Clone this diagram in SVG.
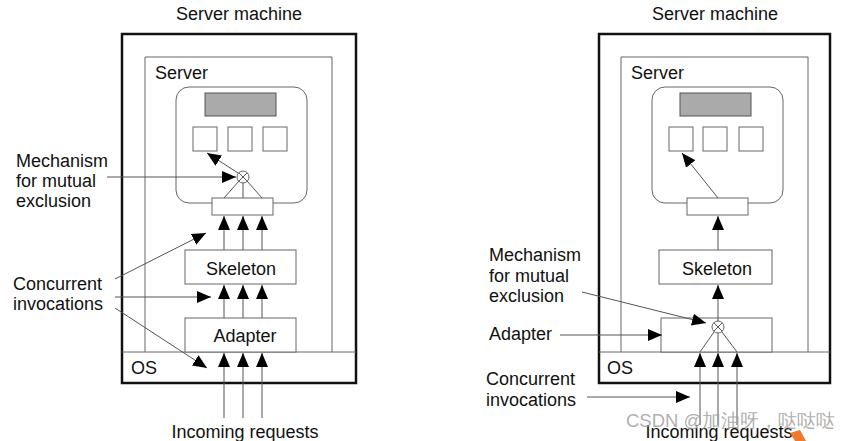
<svg xmlns="http://www.w3.org/2000/svg" width="852" height="441" viewBox="0 0 852 441">
<defs>
<style>
text{font-family:"Liberation Sans",Arial,sans-serif;font-size:18px;fill:#111}
.outer{fill:none;stroke:#111;stroke-width:2.5}
.box{fill:#fff;stroke:#666;stroke-width:1}
.thin{fill:none;stroke:#666;stroke-width:1}
.gray{fill:#aaa;stroke:#555;stroke-width:1}
.c{stroke:#555;stroke-width:1;fill:none}
.a{stroke:#555;stroke-width:1;fill:none;marker-end:url(#ah)}
.mid{text-anchor:middle}
.wm{font-size:18.5px;fill:#9a9a9a;fill-opacity:0.8}
</style>
<marker id="ah" viewBox="0 0 14 12" refX="14" refY="6" markerWidth="14" markerHeight="12" markerUnits="userSpaceOnUse" orient="auto">
<path d="M0,0 L14,6 L0,12 Z" fill="#000"/>
</marker>
</defs>
<rect width="852" height="441" fill="#fff"/>

<!-- LEFT DIAGRAM -->
<g id="left-machine">
<text class="mid" x="239" y="20">Server machine</text>
<rect class="outer" x="122" y="34" width="234" height="349"/>
<line class="thin" x1="122" y1="352" x2="356" y2="352"/>
<text x="131" y="374">OS</text>
</g>
<g id="left-server">
<path class="thin" d="M145,352 V57 H332 V352"/>
<text x="155" y="79">Server</text>
</g>
<g id="left-object">
<rect class="box" x="176" y="87" width="131" height="116" rx="13"/>
<rect class="gray" x="205" y="93" width="71" height="23"/>
<rect class="box" x="193" y="127" width="24" height="24"/>
<rect class="box" x="228" y="127" width="24" height="24"/>
<rect class="box" x="263" y="127" width="24" height="24"/>
</g>
<g id="left-mutex">
<circle class="box" cx="243" cy="177" r="6"/>
<path class="c" d="M238.8,172.8 L247.2,181.2 M247.2,172.8 L238.8,181.2"/>
</g>
<g id="left-interface">
<rect class="box" x="212" y="198" width="61" height="17"/>
</g>
<g id="left-skeleton">
<rect class="box" x="185" y="250" width="111" height="34"/>
<text class="mid" x="241" y="275">Skeleton</text>
</g>
<g id="left-adapter">
<rect class="box" x="185" y="318" width="111" height="34"/>
<text class="mid" x="245" y="342">Adapter</text>
</g>
<g id="left-labels">
<text x="16" y="167">Mechanism</text>
<text x="16" y="187">for mutual</text>
<text x="16" y="207">exclusion</text>
<text x="13" y="290">Concurrent</text>
<text x="13" y="310">invocations</text>
<text class="mid" x="245" y="438">Incoming requests</text>
</g>

<!-- RIGHT DIAGRAM -->
<g id="right-machine">
<text class="mid" x="715" y="20">Server machine</text>
<rect class="outer" x="599" y="34" width="231" height="349"/>
<line class="thin" x1="599" y1="352" x2="830" y2="352"/>
<text x="607" y="374">OS</text>
</g>
<g id="right-server">
<path class="thin" d="M621,352 V57 H808 V352"/>
<text x="631" y="79">Server</text>
</g>
<g id="right-object">
<rect class="box" x="652" y="87" width="131" height="116" rx="13"/>
<rect class="gray" x="680" y="93" width="71" height="23"/>
<rect class="box" x="669" y="127" width="24" height="24"/>
<rect class="box" x="703" y="127" width="24" height="24"/>
<rect class="box" x="739" y="127" width="24" height="24"/>
</g>
<g id="right-interface">
<rect class="box" x="687" y="198" width="61" height="17"/>
</g>
<g id="right-skeleton">
<rect class="box" x="659" y="250" width="113" height="34"/>
<text class="mid" x="717" y="275">Skeleton</text>
</g>
<g id="right-adapter">
<rect class="box" x="661" y="318" width="111" height="34"/>
</g>
<g id="right-mutex">
<circle class="box" cx="718" cy="327" r="6"/>
<path class="c" d="M713.8,322.8 L722.2,331.2 M722.2,322.8 L713.8,331.2"/>
</g>
<g id="right-labels">
<text x="489" y="261">Mechanism</text>
<text x="489" y="282">for mutual</text>
<text x="489" y="302">exclusion</text>
<text x="489" y="340">Adapter</text>
<text x="486" y="385">Concurrent</text>
<text x="486" y="406">invocations</text>
<text class="mid" x="719" y="438">Incoming requests</text>
</g>

<g id="connectors">
<!-- left -->
<line class="a" x1="107" y1="177" x2="236" y2="177"/>
<line class="a" x1="238" y1="173" x2="207" y2="153"/>
<line class="c" x1="239" y1="181" x2="224" y2="198"/>
<line class="c" x1="243" y1="183" x2="243" y2="198"/>
<line class="c" x1="247" y1="181" x2="262" y2="198"/>
<line class="a" x1="224" y1="250" x2="224" y2="216"/>
<line class="a" x1="243" y1="250" x2="243" y2="216"/>
<line class="a" x1="262" y1="250" x2="262" y2="216"/>
<line class="a" x1="224" y1="318" x2="224" y2="285"/>
<line class="a" x1="243" y1="318" x2="243" y2="285"/>
<line class="a" x1="262" y1="318" x2="262" y2="285"/>
<line class="a" x1="224" y1="418" x2="224" y2="353"/>
<line class="a" x1="243" y1="418" x2="243" y2="353"/>
<line class="a" x1="262" y1="418" x2="262" y2="353"/>
<line class="a" x1="115" y1="279" x2="206" y2="233"/>
<line class="a" x1="115" y1="297" x2="211" y2="297"/>
<line class="a" x1="115" y1="308" x2="207" y2="368"/>
<!-- right -->
<line class="a" x1="718" y1="198" x2="682" y2="153"/>
<line class="a" x1="718" y1="250" x2="718" y2="216"/>
<line class="a" x1="718" y1="321" x2="718" y2="285"/>
<line class="c" x1="714" y1="332" x2="700" y2="352"/>
<line class="c" x1="718" y1="333" x2="718" y2="352"/>
<line class="c" x1="722" y1="332" x2="737" y2="352"/>
<line class="a" x1="700" y1="425" x2="700" y2="353"/>
<line class="a" x1="718" y1="425" x2="718" y2="353"/>
<line class="a" x1="737" y1="425" x2="737" y2="353"/>
<line class="a" x1="582" y1="292" x2="706" y2="323"/>
<line class="a" x1="560" y1="335" x2="662" y2="335"/>
<line class="a" x1="587" y1="397" x2="690" y2="397"/>
</g>

<g id="watermark">
<text class="wm" x="626" y="427">CSDN @加油呀，哒哒哒</text>
<path d="M790,433 L800,430 L806,441 L795,441 Z" fill="#f07a2a"/>
</g>
</svg>
